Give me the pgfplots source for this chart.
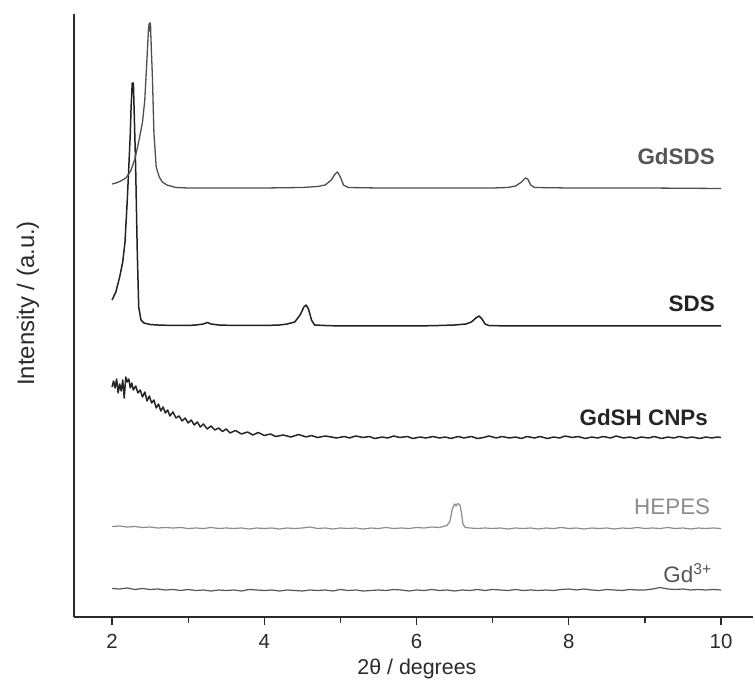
\documentclass[border=0pt]{standalone}
\usepackage{pgfplots}
\pgfplotsset{compat=1.18}
\usepackage{fontspec}
\setmainfont{Liberation Sans}
\definecolor{axcol}{HTML}{2A2A2A}
\definecolor{cGdSDS}{HTML}{4E4E4E}
\definecolor{cGdSDSt}{HTML}{555555}
\definecolor{cSDS}{HTML}{222222}
\definecolor{cGdSH}{HTML}{252525}
\definecolor{cHEPES}{HTML}{8C8C8C}
\definecolor{cGd}{HTML}{555555}
\begin{document}
\begin{tikzpicture}
\begin{axis}[
  at={(0,0)}, anchor=south west,
  scale only axis, width=679bp, height=603bp,
  xmin=1.5, xmax=10.42, ymin=0, ymax=603,
  axis x line=bottom, axis y line=left,
  axis line style={-, line width=1.4bp, draw=axcol},
  xtick={2,4,6,8,10}, minor xtick={3,5,7,9},
  ytick=\empty,
  tick align=outside,
  major tick length=8bp, minor tick length=6bp,
  tick style={line width=1.2bp, draw=axcol},
  /pgf/number format/assume math mode=true,
  xticklabel style={font=\fontsize{20.5}{20.5}\selectfont, text=axcol, anchor=base, yshift=-23bp},
  xlabel={2θ / degrees},
  ylabel={Intensity / (a.u.)},
  xlabel style={font=\fontsize{21.5}{21.5}\selectfont, text=axcol, at={(axis description cs:0.505,0)}, anchor=center, yshift=-52bp},
  ylabel style={font=\fontsize{24}{24}\selectfont, text=axcol, at={(axis description cs:0,0.52)}, anchor=center, yshift=46bp},
  every axis plot/.append style={line join=round, mark=none},
]
% Gd3+
\addplot[cGd, line width=1.2bp] coordinates {
(2.0,28.5)(2.1,28)(2.2,29)(2.3,27.5)(2.4,28.5)(2.5,27.5)(2.6,28)(2.7,27)(2.8,27.5)(2.9,26.5)
(3.0,27.5)(3.1,26.5)(3.2,27)(3.3,26)(3.4,27)(3.5,26.5)(3.6,27)(3.7,26)(3.8,27.5)(3.9,27)
(4.0,26.5)(4.1,27)(4.2,26)(4.3,27)(4.4,26.5)(4.5,26)(4.6,27)(4.7,26.5)(4.8,27)(4.9,26)
(5.0,27.5)(5.1,26.5)(5.2,27)(5.3,26)(5.4,26.5)(5.5,27)(5.6,26.5)(5.7,27.5)(5.8,27)(5.9,26)
(6.0,27)(6.1,26.5)(6.2,27.5)(6.3,26.5)(6.4,27)(6.5,26)(6.6,27)(6.7,26.5)(6.8,27.5)(6.9,26.5)
(7.0,27.5)(7.1,27)(7.2,26.5)(7.3,27.5)(7.4,26.5)(7.5,27)(7.6,26.5)(7.7,27)(7.8,26.5)(7.9,27.5)
(8.0,28)(8.1,27)(8.2,28)(8.3,27)(8.4,26.5)(8.5,27.5)(8.6,27)(8.7,26.5)(8.8,27.5)(8.9,27)
(9.0,27)(9.1,28)(9.2,29.5)(9.3,28)(9.4,27.5)(9.5,28)(9.6,27)(9.7,27.5)(9.8,27)(9.9,27.5)(10.0,27)
};
% HEPES
\addplot[cHEPES, line width=1.2bp] coordinates {
(2.0,90.5)(2.1,91)(2.2,90)(2.3,90.5)(2.4,89.5)(2.5,90)(2.6,89)(2.7,89.5)(2.8,89)(2.9,89.5)
(3.0,88.5)(3.1,89)(3.2,88.5)(3.3,89.5)(3.4,88.5)(3.5,89)(3.6,88.5)(3.7,89)(3.8,88)(3.9,89)
(4.0,88.5)(4.1,89)(4.2,88)(4.3,89)(4.4,88.5)(4.5,89)(4.6,90)(4.7,88.5)(4.8,89)(4.9,88)
(5.0,89)(5.1,88.5)(5.2,89)(5.3,88)(5.4,89)(5.5,88.5)(5.6,89.5)(5.7,88.5)(5.8,89)(5.9,88.5)
(6.0,89.5)(6.1,89)(6.2,90)(6.3,89.5)(6.35,90.5)(6.4,91.5)(6.44,96)(6.47,108)(6.5,113)(6.52,111)
(6.54,113.5)(6.57,112)(6.59,104)(6.61,93)(6.64,89.5)(6.7,89)(6.8,88.5)(6.9,89)
(7.0,88.5)(7.1,89)(7.2,88)(7.3,89)(7.4,88.5)(7.5,89)(7.6,88)(7.7,89)(7.8,88.5)(7.9,89.5)
(8.0,88.5)(8.1,89)(8.2,88)(8.3,89)(8.4,88.5)(8.5,89)(8.6,88)(8.7,89)(8.8,88.5)(8.9,89.5)
(9.0,88.5)(9.1,89)(9.2,88.5)(9.3,89.5)(9.4,88.5)(9.5,89)(9.6,88)(9.7,89)(9.8,88.5)(9.9,89)(10.0,88.5)
};
% GdSH CNPs
\addplot[cGdSH, line width=1.5bp] coordinates {
(2.00,230)(2.02,236)(2.04,229)(2.06,238)(2.08,224)(2.10,233)(2.12,226)(2.14,237)(2.16,219)(2.18,240)
(2.20,235)(2.22,238)(2.24,229)(2.26,234)(2.28,227)(2.31,231)(2.34,224)(2.37,227)(2.40,220)(2.43,225)
(2.46,216)(2.49,221)(2.52,214)(2.55,217)(2.58,209)(2.61,213)(2.64,206)(2.67,210)(2.70,204)(2.73,207)
(2.76,201)(2.80,205)(2.84,199)(2.88,201)(2.92,196)(2.96,199)(3.00,194)(3.04,197)(3.08,192)(3.12,195)
(3.16,190)(3.20,193)(3.25,188)(3.30,191)(3.35,187)(3.40,189)(3.45,185.5)(3.50,188)(3.55,184)(3.62,186.5)
(3.70,183)(3.78,185)(3.85,182)(3.92,184.5)(4.00,181.5)(4.08,183)(4.15,180.5)(4.25,182)(4.35,180)(4.45,182.5)
(4.55,180)(4.62,181.5)(4.70,179.5)(4.80,181)(4.88,180)(4.95,179)(5.05,180.5)(5.12,179)(5.20,181)(5.30,179.5)
(5.38,180.5)(5.45,178.5)(5.55,180)(5.62,179)(5.70,181)(5.78,179.5)(5.88,180.5)(5.95,178.5)(6.05,180)(6.12,179)
(6.22,180.5)(6.30,179)(6.38,180)(6.45,178.5)(6.55,180.5)(6.62,179)(6.72,180.5)(6.80,178.5)(6.88,179.5)(6.95,181)
(7.05,179)(7.12,180.5)(7.22,179)(7.30,180)(7.38,178.5)(7.45,180.5)(7.55,179)(7.62,180.5)(7.72,178.5)(7.80,180)
(7.88,179)(7.95,181)(8.05,179.5)(8.12,180.5)(8.22,178.5)(8.30,180)(8.38,179)(8.45,180.5)(8.55,179)(8.62,181)
(8.72,179)(8.80,180)(8.88,178.5)(8.95,180)(9.05,179)(9.12,180.5)(9.22,178.5)(9.30,180)(9.38,179)(9.45,180.5)
(9.55,179)(9.62,180)(9.72,178.5)(9.80,180)(9.88,179)(9.95,180)(10.00,179.5)
};
% SDS
\addplot[cSDS, line width=1.5bp] coordinates {
(2.00,317)(2.05,325)(2.10,340)(2.14,355)(2.17,375)(2.20,417)(2.22,450)(2.24,484)(2.25,510)(2.265,534)
(2.275,530)(2.28,534)(2.29,507)(2.31,450)(2.33,369)(2.35,310)(2.38,297)(2.42,294)(2.5,292.5)(2.6,292)
(2.8,291.5)(3.0,291.5)(3.1,292)(3.2,293)(3.25,294.5)(3.3,293)(3.4,292)(3.6,291.5)(3.8,291.5)(4.0,291.5)
(4.2,292)(4.3,293)(4.4,295)(4.47,302)(4.52,310)(4.55,312)(4.58,308)(4.62,297)(4.66,292)(4.8,291.5)
(5.0,291)(5.5,291)(6.0,291)(6.3,291.5)(6.5,292)(6.65,293)(6.72,295)(6.78,299)(6.82,301)(6.86,298)
(6.9,293)(6.95,291.5)(7.2,291)(8,291)(9,291)(10,291)
};
% GdSDS
\addplot[cGdSDS, line width=1.3bp] coordinates {
(2.00,433)(2.05,434)(2.10,435.5)(2.15,437.5)(2.18,439)(2.22,443)(2.25,447)(2.30,458)(2.355,477)(2.40,495)
(2.43,517)(2.46,560)(2.48,590)(2.49,594)(2.50,586)(2.505,594)(2.51,580)(2.53,540)(2.55,484)(2.58,450)
(2.62,440)(2.66,435)(2.72,432)(2.84,429.5)(3.0,429)(3.5,429)(4.0,429)(4.5,429.5)(4.7,430.5)(4.8,432)
(4.88,437)(4.93,443)(4.96,445)(5.0,440)(5.04,432)(5.1,429.5)(5.5,429)(6,429)(6.5,429)(7.0,429)
(7.2,429.5)(7.3,431)(7.38,435)(7.43,439)(7.46,438)(7.5,432)(7.55,429.5)(8,429)(9,429)(10,428.5)
};
\node[anchor=base east, font=\fontsize{22.5}{22.5}\selectfont\bfseries, text=cGdSDSt, inner sep=0pt] at (axis cs:9.92,452) {GdSDS};
\node[anchor=base east, font=\fontsize{22.5}{22.5}\selectfont\bfseries, text=cSDS, inner sep=0pt] at (axis cs:9.92,305) {SDS};
\node[anchor=base east, font=\fontsize{22.5}{22.5}\selectfont\bfseries, text=cGdSH, inner sep=0pt] at (axis cs:9.83,191) {GdSH CNPs};
\node[anchor=base east, font=\fontsize{22.5}{22.5}\selectfont, text=cHEPES, inner sep=0pt] at (axis cs:9.86,102) {HEPES};
\node[anchor=base east, font=\fontsize{22.5}{22.5}\selectfont, text=cGd, inner sep=0pt] at (axis cs:9.88,35) {Gd\textsuperscript{3+}};
\end{axis}
\pgfresetboundingbox
\path[use as bounding box] (-74bp,-63bp) rectangle (681bp,617bp);
\end{tikzpicture}
\end{document}
